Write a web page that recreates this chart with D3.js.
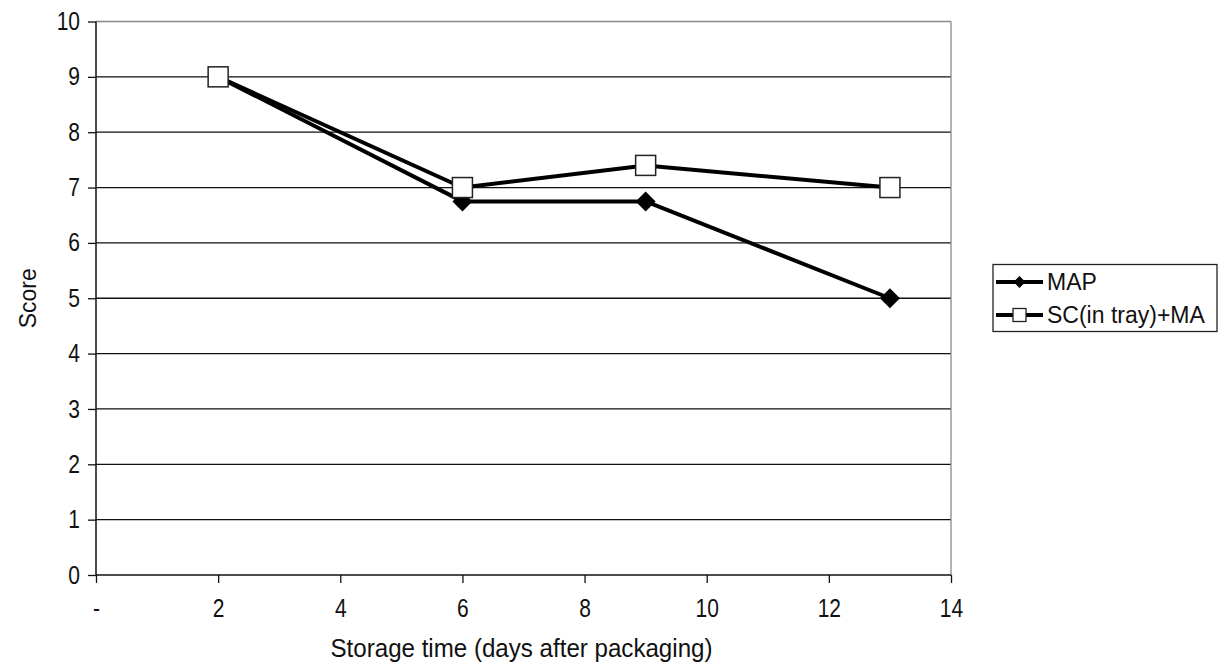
<!DOCTYPE html>
<html><head><meta charset="utf-8">
<script src="https://cdn.jsdelivr.net/npm/d3@7"></script>
<style>body{margin:0;background:#fff;}svg{display:block;font-family:"Liberation Sans",Arial,sans-serif;}</style>
</head><body>
<svg id="c" width="1218" height="663"></svg>
<script>
const days = [2, 6, 9, 13];
const mapScores = [9, 6.75, 6.75, 5];
const scScores = [9, 7, 7.4, 7];
const seriesNames = ["MAP", "SC(in tray)+MA"];
const xTicks = [0, 2, 4, 6, 8, 10, 12, 14];
const yTicks = [0,1,2,3,4,5,6,7,8,9,10];
const xTitle = "Storage time (days after packaging)";
const yTitle = "Score";

const svg = d3.select("#c");
const L = 96, R = 951, T = 21.5, B = 575;
const x = d3.scaleLinear().domain([0, 14]).range([L, R]);
const y = d3.scaleLinear().domain([0, 10]).range([B, T]);

// make text taller than its width suggests (reference text is vertically stretched)
function stretch(sel, baseSize, factor) {
  sel.each(function () {
    const t = d3.select(this);
    t.attr("font-size", baseSize);
    const w = this.getComputedTextLength();
    t.attr("font-size", baseSize * factor).attr("textLength", w).attr("lengthAdjust", "spacingAndGlyphs");
  });
}

// gridlines
svg.append("g").selectAll("line").data(yTicks.filter(d => d > 0)).join("line")
  .attr("x1", L).attr("x2", R).attr("y1", d => y(d)).attr("y2", d => y(d))
  .attr("stroke", d => d === 10 ? "#888" : "#111").attr("stroke-width", 1.3);
// right border
svg.append("line").attr("x1", R).attr("x2", R).attr("y1", T).attr("y2", B)
  .attr("stroke", "#888").attr("stroke-width", 1.3);

// axes
const yAxis = svg.append("g").attr("transform", `translate(${L},0)`)
  .call(d3.axisLeft(y).tickValues(yTicks).tickSize(8).tickPadding(8).tickFormat(d3.format("d")));
const xAxis = svg.append("g").attr("transform", `translate(0,${B})`)
  .call(d3.axisBottom(x).tickValues(xTicks).tickSize(8).tickPadding(16).tickFormat(d => d === 0 ? "-" : d));
[yAxis, xAxis].forEach(a => {
  a.attr("font-family", '"Liberation Sans",Arial,sans-serif');
  a.select(".domain").attr("stroke", "#111").attr("stroke-width", 1.5);
  a.selectAll(".tick line").attr("stroke", "#111").attr("stroke-width", 1.3);
  a.selectAll("text").attr("fill", "#111");
  stretch(a.selectAll("text"), 21, 1.2);
});
xAxis.select(".domain").attr("d", `M${L},0H${R}`);
yAxis.select(".domain").attr("d", `M0,${B}V${T}`);

// titles
svg.append("text").attr("x", (L + R) / 2 - 2).attr("y", 657).attr("text-anchor", "middle")
  .attr("font-size", 25).attr("fill", "#111").attr("textLength", 382)
  .attr("lengthAdjust", "spacingAndGlyphs").text(xTitle);
svg.append("text").attr("transform", `translate(36,${(T + B) / 2}) rotate(-90)`)
  .attr("text-anchor", "middle").attr("font-size", 23).attr("fill", "#111")
  .attr("textLength", 60).attr("lengthAdjust", "spacingAndGlyphs").text(yTitle);

const line = d3.line().x(d => x(d[0])).y(d => y(d[1]));
const mapData = days.map((d, i) => [d, mapScores[i]]);
const scData = days.map((d, i) => [d, scScores[i]]);

svg.append("path").datum(mapData).attr("d", line).attr("fill", "none")
  .attr("stroke", "#000").attr("stroke-width", 4).attr("stroke-linejoin", "round");
svg.append("path").datum(scData).attr("d", line).attr("fill", "none")
  .attr("stroke", "#000").attr("stroke-width", 4).attr("stroke-linejoin", "round");

const diamond = (cx, cy, r) => `M${cx},${cy - r}L${cx + r},${cy}L${cx},${cy + r}L${cx - r},${cy}Z`;
svg.append("g").selectAll("path").data(mapData).join("path")
  .attr("d", d => diamond(x(d[0]), y(d[1]), 10)).attr("fill", "#000");
svg.append("g").selectAll("rect").data(scData).join("rect")
  .attr("x", d => x(d[0]) - 10).attr("y", d => y(d[1]) - 10)
  .attr("width", 20).attr("height", 20).attr("fill", "#fff")
  .attr("stroke", "#222").attr("stroke-width", 1.5);

// legend
const lg = svg.append("g");
lg.append("rect").attr("x", 993).attr("y", 264.5).attr("width", 224).attr("height", 67)
  .attr("fill", "#fff").attr("stroke", "#222").attr("stroke-width", 1.3);
const ly = [282, 315];
seriesNames.forEach((name, i) => {
  lg.append("line").attr("x1", 996).attr("x2", 1043).attr("y1", ly[i]).attr("y2", ly[i])
    .attr("stroke", "#000").attr("stroke-width", 4);
  if (i === 0) lg.append("path").attr("d", diamond(1019.5, ly[i], 6)).attr("fill", "#000");
  else lg.append("rect").attr("x", 1013).attr("y", ly[i] - 6.5).attr("width", 13).attr("height", 13)
    .attr("fill", "#fff").attr("stroke", "#222").attr("stroke-width", 1.3);
  lg.append("text").attr("x", 1047).attr("y", ly[i]).attr("dy", "0.36em")
    .attr("font-size", 23).attr("fill", "#111").text(name);
});
</script>
</body></html>
